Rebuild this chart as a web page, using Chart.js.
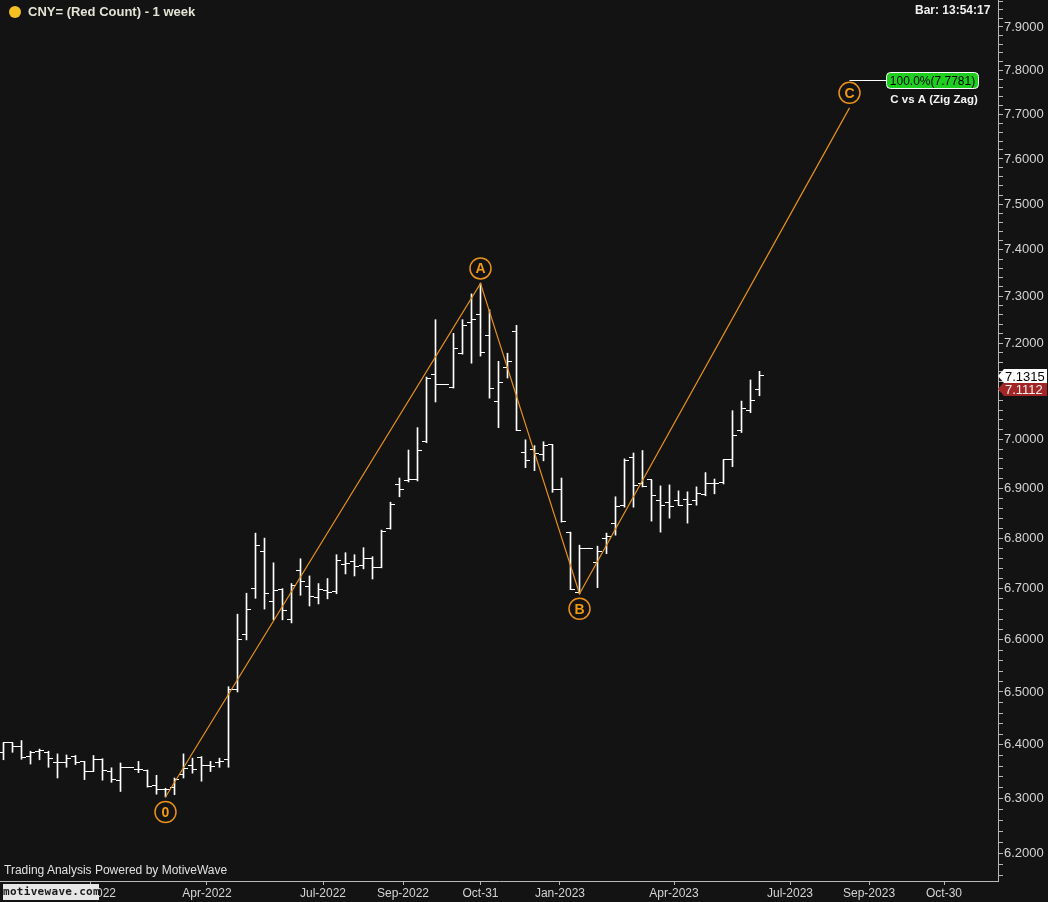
<!DOCTYPE html>
<html>
<head>
<meta charset="utf-8">
<script src="https://cdn.jsdelivr.net/npm/chart.js@4.4.1/dist/chart.umd.min.js"></script>
<style>
  body { margin: 0; background: #131313; }
  #wrap { position: relative; width: 1048px; height: 902px; overflow: hidden; }
  #title { position: absolute; left: 9px; top: 4px; font: bold 13px "Liberation Sans", Arial, sans-serif; color: #e4e4d6; }
  #title .dot { display: inline-block; width: 12px; height: 12px; border-radius: 6px; background: #f4c022; margin-right: 7px; vertical-align: -2px; }
  #barTime { position: absolute; left: 915px; top: 3px; font: bold 12px "Liberation Sans", Arial, sans-serif; color: #f0f0f0; }
  #powered { position: absolute; left: 4px; top: 863px; font: 12px "Liberation Sans", Arial, sans-serif; color: #e0e0e0; }
  #logo { position: absolute; left: 3px; top: 884px; width: 96px; height: 16px; background: #e6e6e6; color: #1a1a1a;
          font: bold 11px "DejaVu Sans Mono", monospace; line-height: 16px; text-align: center; letter-spacing: 0.3px; }
</style>
</head>
<body>
<div id="wrap">
  <canvas id="cnyChart" width="1048" height="902"></canvas>
  <div id="title"><span class="dot"></span>CNY= (Red Count) - 1 week</div>
  <div id="barTime">Bar: 13:54:17</div>
  <div id="powered">Trading Analysis Powered by MotiveWave</div>
  <div id="logo">motivewave.com</div>
</div>
<script>
// weekly bars, week 0 = 3 Jan 2022, first bar is 10 weeks earlier
const firstWeek = -10;

const opens = [
  6.385, 6.404, 6.396, 6.378, 6.388, 6.386, 6.367, 6.366, 6.378, 6.368,
  6.351, 6.373, 6.350, 6.333, 6.358, 6.353, 6.352, 6.325, 6.317, 6.320,
  6.345, 6.362, 6.377, 6.361, 6.366, 6.372, 6.505, 6.610, 6.700, 6.774,
  6.674, 6.698, 6.639, 6.735, 6.704, 6.683, 6.697, 6.695, 6.747, 6.753,
  6.745, 6.759, 6.741, 6.820, 6.907, 6.915, 6.917, 6.995, 7.135, 7.113,
  7.108, 7.179, 7.243, 7.262, 7.216, 7.079, 7.150, 7.225, 6.972, 6.980,
  6.968, 6.989, 6.898, 6.812, 6.692, 6.780, 6.751, 6.800, 6.830, 6.866,
  6.962, 6.909, 6.917, 6.876, 6.872, 6.876, 6.878, 6.876, 6.887, 6.909,
  6.911, 6.958, 7.018, 7.059, 7.102
];
const highs = [
  6.404, 6.404, 6.408, 6.388, 6.392, 6.388, 6.383, 6.381, 6.380, 6.369,
  6.380, 6.374, 6.357, 6.366, 6.358, 6.369, 6.353, 6.343, 6.319, 6.338,
  6.383, 6.375, 6.378, 6.369, 6.375, 6.510, 6.650, 6.691, 6.810, 6.800,
  6.751, 6.700, 6.710, 6.759, 6.725, 6.710, 6.720, 6.767, 6.771, 6.767,
  6.781, 6.763, 6.816, 6.872, 6.921, 6.978, 7.024, 7.129, 7.250, 7.113,
  7.221, 7.250, 7.305, 7.3275, 7.271, 7.162, 7.179, 7.238, 6.999, 6.987,
  6.995, 6.989, 6.921, 6.812, 6.786, 6.780, 6.784, 6.810, 6.883, 6.960,
  6.972, 6.977, 6.917, 6.905, 6.907, 6.895, 6.893, 6.903, 6.932, 6.919,
  6.958, 7.059, 7.079, 7.123, 7.141
];
const lows = [
  6.372, 6.386, 6.373, 6.364, 6.372, 6.358, 6.338, 6.358, 6.363, 6.335,
  6.350, 6.334, 6.330, 6.313, 6.358, 6.348, 6.321, 6.308, 6.3028, 6.307,
  6.338, 6.347, 6.332, 6.350, 6.358, 6.358, 6.500, 6.600, 6.681, 6.660,
  6.639, 6.639, 6.633, 6.687, 6.666, 6.670, 6.680, 6.690, 6.729, 6.725,
  6.739, 6.719, 6.741, 6.818, 6.883, 6.913, 6.915, 6.993, 7.077, 7.113,
  7.106, 7.177, 7.158, 7.173, 7.085, 7.024, 7.127, 7.018, 6.942, 6.936,
  6.956, 6.892, 6.832, 6.698, 6.690, 6.780, 6.702, 6.769, 6.806, 6.862,
  6.862, 6.903, 6.834, 6.812, 6.840, 6.866, 6.830, 6.866, 6.885, 6.889,
  6.909, 6.944, 7.014, 7.055, 7.090
];
const closes = [
  6.404, 6.396, 6.377, 6.385, 6.389, 6.374, 6.366, 6.374, 6.366, 6.351,
  6.373, 6.352, 6.335, 6.358, 6.358, 6.353, 6.322, 6.316, 6.317, 6.335,
  6.355, 6.354, 6.361, 6.360, 6.369, 6.505, 6.600, 6.660, 6.786, 6.690,
  6.697, 6.658, 6.706, 6.715, 6.685, 6.698, 6.693, 6.755, 6.749, 6.743,
  6.759, 6.741, 6.814, 6.868, 6.897, 6.917, 6.978, 7.125, 7.113, 7.113,
  7.188, 7.238, 7.250, 7.181, 7.106, 7.117, 7.162, 7.018, 6.956, 6.970,
  6.987, 6.898, 6.834, 6.698, 6.780, 6.780, 6.773, 6.804, 6.864, 6.956,
  6.905, 6.903, 6.885, 6.866, 6.864, 6.866, 6.868, 6.889, 6.909, 6.909,
  6.958, 7.007, 7.063, 7.081, 7.1315
];

// zig zag (Red Count)
const waveLabels = ['0', 'A', 'B', 'C'];
const waveWeeks = [8, 43, 54, 84];
const wavePrices = [6.3028, 7.3275, 6.690, 7.7147];
const targetPrice = 7.7781;
const targetText = '100.0%(7.7781)';
const targetName = 'C vs A (Zig Zag)';
const lastPrice = 7.1315;
const refPrice = 7.1112;

// axis ticks
const yLabels = [6.2, 6.3, 6.4, 6.5, 6.6, 6.7, 6.8, 6.9, 7.0, 7.1, 7.2, 7.3, 7.4, 7.5, 7.6, 7.7, 7.8, 7.9];
const monthTicks = [-0.28, 12.61, 25.5, 34.39, 43.0, 51.83, 64.5, 77.39, 86.17, 94.5];
const monthLabels = ['Jan-2022', 'Apr-2022', 'Jul-2022', 'Sep-2022', 'Oct-31', 'Jan-2023', 'Apr-2023', 'Jul-2023', 'Sep-2023', 'Oct-30'];

const orange = '#e8911a';
const axisColor = '#b8b8b8';

// open tick sits left of the bar, close tick right
function tickImage(side) {
  const c = document.createElement('canvas');
  c.width = 9;
  c.height = 1;
  const g = c.getContext('2d');
  g.fillStyle = '#ffffff';
  if (side === 'left') g.fillRect(0, 0, 5, 1);
  else g.fillRect(4, 0, 5, 1);
  return c;
}

const rangeBars = opens.map((o, k) => ({ x: firstWeek + k, y: [lows[k], highs[k]] }));
const openPts = opens.map((o, k) => ({ x: firstWeek + k, y: o }));
const closePts = closes.map((c, k) => ({ x: firstWeek + k, y: c }));
const wavePts = waveWeeks.map((w, k) => ({ x: w, y: wavePrices[k] }));

function priceTag(ctx, yPix, text, bg, fg) {
  ctx.beginPath();
  ctx.moveTo(998, yPix);
  ctx.lineTo(1004, yPix - 7);
  ctx.lineTo(1047, yPix - 7);
  ctx.lineTo(1047, yPix + 7);
  ctx.lineTo(1004, yPix + 7);
  ctx.closePath();
  ctx.fillStyle = bg;
  ctx.fill();
  ctx.fillStyle = fg;
  ctx.font = '13px "Liberation Sans", Arial, sans-serif';
  ctx.textAlign = 'left';
  ctx.textBaseline = 'middle';
  ctx.fillText(text, 1005, yPix + 1);
}

const overlay = {
  id: 'overlay',
  beforeDatasetsDraw(chart) {
    // keep the 1px OHLC ticks sharp
    chart.ctx.imageSmoothingEnabled = false;
  },
  afterDatasetsDraw(chart) {
    const { ctx } = chart;
    ctx.imageSmoothingEnabled = true;
    const xs = chart.scales.x;
    const ys = chart.scales.y;
    ctx.save();

    // wave circles
    waveLabels.forEach((t, k) => {
      const px = xs.getPixelForValue(waveWeeks[k]);
      const py = ys.getPixelForValue(wavePrices[k]);
      const cy = py + (k % 2 === 1 ? -15 : 15);
      ctx.beginPath();
      ctx.arc(px, cy, 10.5, 0, Math.PI * 2);
      ctx.strokeStyle = orange;
      ctx.lineWidth = 1.5;
      ctx.stroke();
      ctx.fillStyle = '#f29a12';
      ctx.font = 'bold 14px "Liberation Sans", Arial, sans-serif';
      ctx.textAlign = 'center';
      ctx.textBaseline = 'middle';
      ctx.fillText(t, px, cy + 1);
    });

    // target label
    const cx = xs.getPixelForValue(waveWeeks[3]);
    const ty = Math.round(ys.getPixelForValue(targetPrice)) + 0.5;
    ctx.strokeStyle = '#ffffff';
    ctx.lineWidth = 1;
    ctx.beginPath();
    ctx.moveTo(cx, ty);
    ctx.lineTo(886, ty);
    ctx.stroke();
    ctx.beginPath();
    ctx.roundRect(886.5, ty - 8, 92, 16, 4);
    ctx.fillStyle = '#1fcf1f';
    ctx.fill();
    ctx.stroke();
    ctx.fillStyle = '#000000';
    ctx.font = '12px "Liberation Sans", Arial, sans-serif';
    ctx.textAlign = 'center';
    ctx.textBaseline = 'middle';
    ctx.fillText(targetText, 932.5, ty + 1);
    ctx.fillStyle = '#f4f4f4';
    ctx.font = 'bold 11.5px "Liberation Sans", Arial, sans-serif';
    ctx.fillText(targetName, 934, ty + 19);
    ctx.restore();
  },
  afterDraw(chart) {
    const { ctx } = chart;
    const ys = chart.scales.y;
    ctx.save();
    const y1 = Math.round(ys.getPixelForValue(lastPrice));
    const y2 = Math.max(Math.round(ys.getPixelForValue(refPrice)), y1 + 13);
    priceTag(ctx, y2, refPrice.toFixed(4), '#a22626', '#eeeeee');
    priceTag(ctx, y1, lastPrice.toFixed(4), '#ffffff', '#000000');
    ctx.restore();
  }
};

new Chart(document.getElementById('cnyChart'), {
  type: 'bar',
  data: {
    datasets: [
      {
        type: 'line',
        data: wavePts,
        borderColor: orange,
        borderWidth: 1.2,
        pointRadius: 0,
        tension: 0,
        order: 0
      },
      {
        type: 'bar',
        data: rangeBars,
        backgroundColor: '#ffffff',
        barThickness: 1,
        grouped: false,
        order: 2
      },
      {
        type: 'scatter',
        data: openPts,
        pointStyle: tickImage('left'),
        pointRadius: 1,
        order: 1
      },
      {
        type: 'scatter',
        data: closePts,
        pointStyle: tickImage('right'),
        pointRadius: 1,
        order: 1
      }
    ]
  },
  plugins: [overlay],
  options: {
    responsive: false,
    animation: false,
    layout: { padding: 0, autoPadding: false },
    plugins: {
      legend: { display: false },
      tooltip: { enabled: false },
      title: { display: false }
    },
    scales: {
      x: {
        type: 'linear',
        position: 'bottom',
        min: -10.3889,
        max: 100.5,
        offset: false,
        bounds: 'data',
        afterBuildTicks: (scale) => {
          scale.ticks = monthTicks.map((v) => ({ value: v }));
        },
        afterFit: (scale) => {
          scale.height = 21;
          scale.paddingLeft = 0;
          scale.paddingRight = 0;
        },
        ticks: {
          autoSkip: false,
          maxRotation: 0,
          padding: 1,
          color: '#d4d4d4',
          font: { family: '"Liberation Sans", Arial, sans-serif', size: 12 },
          callback: (v, i) => monthLabels[i]
        },
        grid: { drawOnChartArea: false, offset: false, tickLength: 4, color: axisColor },
        border: { display: true, color: axisColor }
      },
      y: {
        type: 'logarithmic',
        position: 'right',
        min: 6.1494,
        max: 7.9627,
        bounds: 'data',
        afterBuildTicks: (scale) => {
          const t = [];
          for (let v = 6.16; v < 7.96; v += 0.02) t.push({ value: Math.round(v * 100) / 100 });
          scale.ticks = t;
        },
        afterFit: (scale) => {
          scale.width = 50;
          scale.paddingTop = 0;
          scale.paddingBottom = 0;
        },
        ticks: {
          autoSkip: false,
          padding: 1,
          color: '#d4d4d4',
          font: { family: '"Liberation Sans", Arial, sans-serif', size: 13 },
          callback: (v) => (yLabels.some((l) => Math.abs(l - v) < 1e-6) ? v.toFixed(4) : '')
        },
        grid: { drawOnChartArea: false, tickLength: 5, color: axisColor },
        border: { display: true, color: axisColor }
      }
    }
  }
});
</script>
</body>
</html>
